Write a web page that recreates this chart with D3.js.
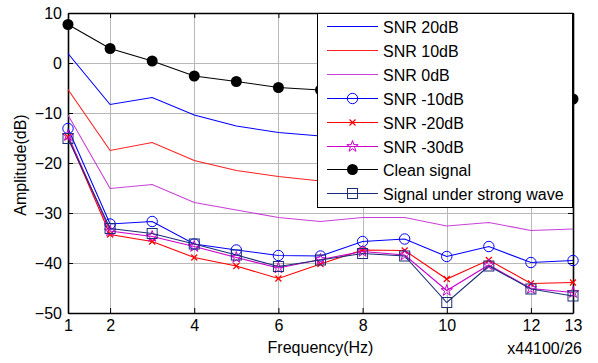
<!DOCTYPE html>
<html>
<head>
<meta charset="utf-8">
<script src="https://cdn.jsdelivr.net/npm/d3@7"></script>
<style>
  body { margin: 0; background: #fff; }
  text { font-family: "Liberation Sans", Arial, sans-serif; font-size: 16px; fill: #000; }
</style>
</head>
<body>
<svg width="598" height="363"></svg>
<script>
// values (dB), one per frequency bin
var freq = [1, 2, 3, 4, 5, 6, 7, 8, 9, 10, 11, 12, 13];
var snr20 = [1.9, -8.3, -6.9, -10.4, -12.6, -13.9, -14.6, -14.9, -15.2, -15.5, -15.7, -15.9, -16.1];
var snr10 = [-5.3, -17.5, -15.9, -19.5, -21.5, -22.7, -23.6, -24.0, -24.4, -24.8, -25.1, -25.4, -25.7];
var snr0 = [-10.4, -25.1, -24.3, -27.9, -29.4, -30.9, -31.7, -30.9, -30.9, -32.6, -31.9, -33.5, -33.2];
var snrM10 = [-13.1, -32.2, -31.7, -36.2, -37.4, -38.5, -38.6, -35.7, -35.2, -38.7, -36.7, -39.9, -39.5];
var snrM20 = [-14.8, -34.3, -35.7, -38.9, -40.6, -43.1, -40.2, -37.4, -37.5, -43.2, -39.4, -44.1, -43.9];
var snrM30 = [-14.5, -33.6, -34.7, -36.7, -38.9, -41.0, -39.3, -37.7, -38.4, -45.5, -40.4, -45.1, -45.9];
var clean = [7.7, 2.9, 0.4, -2.6, -3.7, -4.9, -5.4, -5.8, -6.1, -6.5, -6.8, -7.0, -7.2];
var strong = [-15.1, -33.1, -34.1, -36.2, -38.4, -40.7, -39.4, -38.1, -38.6, -47.9, -40.6, -45.2, -46.6];

var xTicks = [1, 2, 4, 6, 8, 10, 12, 13];
var xGrid = [2, 4, 6, 8, 10, 12];
var yTicks = [-50, -40, -30, -20, -10, 0, 10];

var series = [
  { name: "SNR 20dB", values: snr20, color: "#0000ff", marker: null },
  { name: "SNR 10dB", values: snr10, color: "#ff2020", marker: null },
  { name: "SNR 0dB", values: snr0, color: "#c840d8", marker: null },
  { name: "SNR -10dB", values: snrM10, color: "#0000ff", marker: "circle" },
  { name: "SNR -20dB", values: snrM20, color: "#ff0000", marker: "x" },
  { name: "SNR -30dB", values: snrM30, color: "#cc00cc", marker: "star" },
  { name: "Clean signal", values: clean, color: "#000000", marker: "dot" },
  { name: "Signal under strong wave", values: strong, color: "#1b2f78", marker: "square" }
];

var svg = d3.select("svg");
var pLeft = 68, pRight = 573, pTop = 13, pBottom = 313;

var x = d3.scaleLinear().domain([1, 13]).range([pLeft, pRight]);
var y = d3.scaleLinear().domain([-50, 10]).range([pBottom, pTop]);

// grid
svg.append("g").selectAll("line").data(xGrid).enter().append("line")
  .attr("x1", d => Math.round(x(d)) + 0.5).attr("x2", d => Math.round(x(d)) + 0.5)
  .attr("y1", pTop).attr("y2", pBottom)
  .attr("stroke", "#b8b8b8").attr("stroke-width", 1);
svg.append("g").selectAll("line").data(yTicks.filter(d => d > -50 && d < 10)).enter().append("line")
  .attr("x1", pLeft).attr("x2", pRight)
  .attr("y1", d => Math.round(y(d)) + 0.5).attr("y2", d => Math.round(y(d)) + 0.5)
  .attr("stroke", "#b8b8b8").attr("stroke-width", 1);

// axes, ticks pointing inward like matlab
var xAxis = svg.append("g").attr("transform", "translate(0," + pBottom + ")")
  .call(d3.axisBottom(x).tickValues(xTicks).tickFormat(d3.format("d")).tickSizeInner(-5).tickSizeOuter(0).tickPadding(8));
var xTop = svg.append("g").attr("transform", "translate(0," + pTop + ")")
  .call(d3.axisTop(x).tickValues(xTicks).tickFormat("").tickSizeInner(-5).tickSizeOuter(0));
var yAxis = svg.append("g").attr("transform", "translate(" + pLeft + ",0)")
  .call(d3.axisLeft(y).tickValues(yTicks).tickFormat(d3.format("d")).tickSizeInner(-5).tickSizeOuter(0).tickPadding(6));
var yRight = svg.append("g").attr("transform", "translate(" + pRight + ",0)")
  .call(d3.axisRight(y).tickValues(yTicks).tickFormat("").tickSizeInner(-5).tickSizeOuter(0));

[xAxis, xTop, yAxis, yRight].forEach(function (g) {
  g.select(".domain").attr("stroke", "#000").attr("stroke-width", 1.6);
  g.selectAll(".tick line").attr("stroke", "#000");
  g.selectAll("text").attr("font-size", 16).attr("font-family", "Liberation Sans, Arial, sans-serif").attr("fill", "#000");
});
xAxis.selectAll(".tick text").attr("dy", "0.6em");
yAxis.selectAll(".tick text").attr("dy", "0.36em");

// markers
var star = d3.symbol().type(d3.symbolStar).size(40);
function drawMarker(g, type, color, cx, cy) {
  if (type === "circle") {
    g.append("circle").attr("cx", cx).attr("cy", cy).attr("r", 5.2)
      .attr("fill", "none").attr("stroke", color).attr("stroke-width", 1);
  } else if (type === "dot") {
    g.append("circle").attr("cx", cx).attr("cy", cy).attr("r", 5.5).attr("fill", color);
  } else if (type === "square") {
    g.append("rect").attr("x", cx - 5).attr("y", cy - 5).attr("width", 10).attr("height", 10)
      .attr("fill", "none").attr("stroke", color).attr("stroke-width", 1);
  } else if (type === "x") {
    g.append("path").attr("d", "M" + (cx - 3) + "," + (cy - 3) + "L" + (cx + 3) + "," + (cy + 3) +
      "M" + (cx - 3) + "," + (cy + 3) + "L" + (cx + 3) + "," + (cy - 3))
      .attr("stroke", color).attr("stroke-width", 1.2).attr("fill", "none");
  } else if (type === "star") {
    g.append("path").attr("d", star()).attr("transform", "translate(" + cx + "," + cy + ")")
      .attr("fill", "none").attr("stroke", color).attr("stroke-width", 1);
  }
}

var line = d3.line().x((d, i) => x(freq[i])).y(d => y(d));
series.forEach(function (s) {
  var g = svg.append("g");
  g.append("path").datum(s.values).attr("d", line)
    .attr("fill", "none").attr("stroke", s.color).attr("stroke-width", 1.1);
  if (s.marker) {
    s.values.forEach(function (v, i) { drawMarker(g, s.marker, s.color, x(freq[i]), y(v)); });
  }
});

// legend
var lg = svg.append("g");
lg.append("rect").attr("x", 317.5).attr("y", 13.5).attr("width", 255).attr("height", 194)
  .attr("fill", "#fff").attr("stroke", "#000").attr("stroke-width", 1);
series.forEach(function (s, i) {
  var ly = Math.round(26 + i * 23.9) + 0.5;
  lg.append("line").attr("x1", 327).attr("x2", 378).attr("y1", ly).attr("y2", ly)
    .attr("stroke", s.color).attr("stroke-width", 1);
  if (s.marker) drawMarker(lg, s.marker, s.color, 352.5, ly);
  lg.append("text").attr("x", 383).attr("y", ly + 6).text(s.name);
});

// labels
svg.append("text").attr("x", (pLeft + pRight) / 2).attr("y", 353).attr("text-anchor", "middle").text("Frequency(Hz)");
svg.append("text").attr("x", 582).attr("y", 354).attr("text-anchor", "end").text("x44100/26");
svg.append("text").attr("transform", "translate(26,165) rotate(-90)").attr("text-anchor", "middle").text("Amplitude(dB)");
</script>
</body>
</html>
